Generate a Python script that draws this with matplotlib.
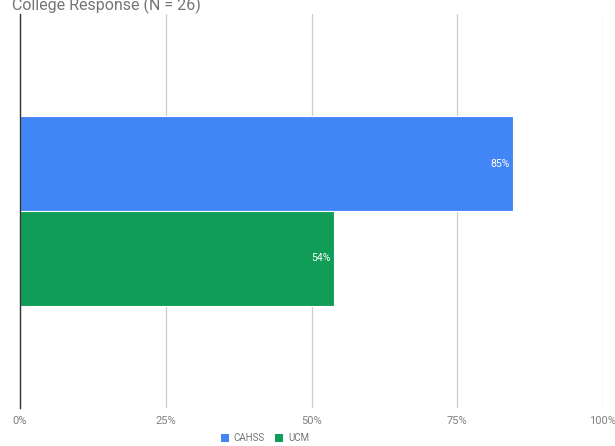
import matplotlib.pyplot as plt
from matplotlib.patches import Patch

plt.rcParams['font.family'] = ['Roboto', 'DejaVu Sans']

# college responses, share of N = 26
colleges = ['CAHSS', 'UCM']
shares = [22 / 26 * 100, 14 / 26 * 100]
colors = ['#4285F4', '#0F9D58']
ticks = [0, 25, 50, 75, 100]
tick_labels = ['0%', '25%', '50%', '75%', '100%']

fig = plt.figure(figsize=(6.15, 4.46), dpi=100)
ax = fig.add_axes([20 / 615, 38 / 446, 583 / 615, 394 / 446])

bar_h = 0.24
offsets = [-bar_h / 2, bar_h / 2]
for name, val, col, off in zip(colleges, shares, colors, offsets):
    ax.barh(off, val, height=bar_h, color=col, edgecolor='white', linewidth=0.8, zorder=2)
    ax.text(val - 0.6, off, '{:.0f}%'.format(val), color='white', fontsize=7.5,
            ha='right', va='center', zorder=3)

ax.set_xlim(0, 100)
ax.set_ylim(0.5, -0.5)
ax.set_xticks(ticks)
ax.set_xticklabels(tick_labels, color='#808080', fontsize=8)
ax.set_yticks([])
ax.tick_params(axis='x', length=0, pad=6)
ax.grid(axis='x', color='#cccccc', linewidth=0.9, zorder=0)
for side in ['top', 'right', 'bottom']:
    ax.spines[side].set_visible(False)
ax.spines['left'].set_color('#333333')
ax.spines['left'].set_linewidth(1)
ax.spines['left'].set_zorder(4)

fig.text(12 / 615, 1 - 10 / 446, 'College Response (N = 26)', color='#757575',
         fontsize=11.5, ha='left', va='baseline')

handles = [Patch(facecolor=c, edgecolor='none') for c in colors]
fig.legend(handles, colleges, loc='center', bbox_to_anchor=(265 / 615, 1 - 438 / 446),
           ncol=2, frameon=False, fontsize=7, handlelength=0.8, handleheight=0.9,
           handletextpad=0.5, columnspacing=1.1, labelcolor='#757575')

plt.savefig('out.png', dpi=100)
